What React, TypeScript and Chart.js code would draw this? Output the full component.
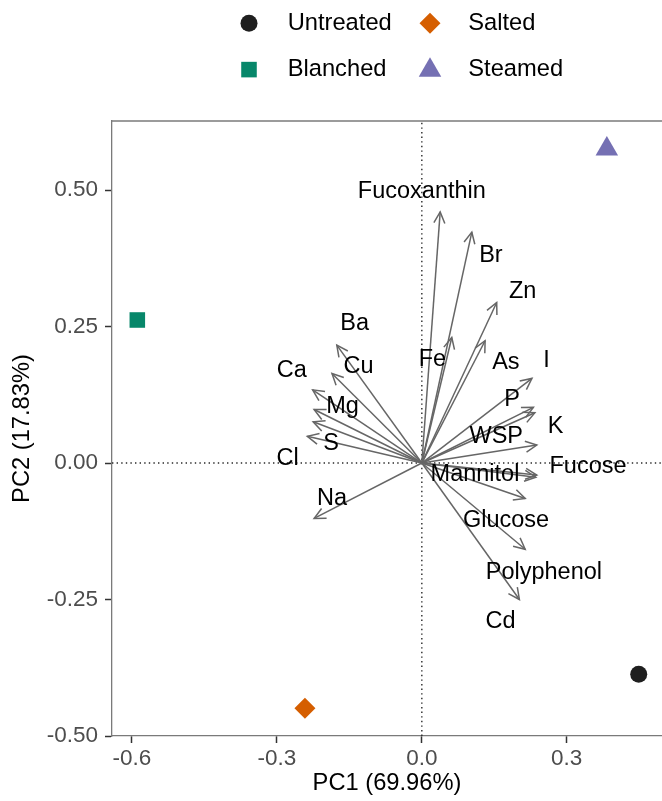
import React, { useEffect, useRef } from 'react';
import { Chart, registerables } from 'chart.js';

Chart.register(...registerables);

// ---- Data ----
const groups = ['Untreated', 'Salted', 'Blanched', 'Steamed'];
const scoreX = [0.449, -0.242, -0.589, 0.383];
const scoreY = [-0.387, -0.449, 0.262, 0.575];

const varNames = ['Fucoxanthin', 'Br', 'Zn', 'Fe', 'As', 'I', 'P', 'K', 'WSP', 'Fucose', 'Mannitol', 'Glucose', 'Polyphenol', 'Cd', 'Ba', 'Cu', 'Ca', 'Mg', 'S', 'Cl', 'Na'];
const loadX = [0.038, 0.1035, 0.155, 0.062, 0.131, 0.228, 0.231, 0.234, 0.238, 0.238, 0.236, 0.214, 0.214, 0.202, -0.176, -0.186, -0.226, -0.223, -0.225, -0.237, -0.223];
const loadY = [0.46, 0.423, 0.294, 0.23, 0.224, 0.155, 0.102, 0.092, 0.033, -0.022, -0.026, -0.065, -0.158, -0.25, 0.216, 0.164, 0.134, 0.098, 0.0755, 0.049, -0.1015];
const labelX = [0.0, 0.143, 0.2086, 0.022, 0.174, 0.258, 0.187, 0.277, 0.154, 0.344, 0.11, 0.1744, 0.2527, 0.163, -0.139, -0.131, -0.269, -0.164, -0.188, -0.278, -0.186];
const labelY = [0.498, 0.381, 0.315, 0.19, 0.185, 0.187, 0.117, 0.067, 0.048, -0.007, -0.0216, -0.1046, -0.2005, -0.2906, 0.256, 0.177, 0.169, 0.104, 0.036, 0.008, -0.065];

const xTicks = [-0.6, -0.3, 0.0, 0.3];
const yTicks = [-0.5, -0.25, 0.0, 0.25, 0.5];
const xLimits = [-0.6414, 0.4972];
const yLimits = [-0.5, 0.6265];
const xTitle = 'PC1 (69.96%)';
const yTitle = 'PC2 (17.83%)';

// ---- Styles ----
const FONT = "'Liberation Sans', Arial, Helvetica, sans-serif";
const groupColors = ['#1f1f1f', '#d55e00', '#07876a', '#7570b3'];
const groupShapes = ['circle', 'rectRot', 'rect', 'triangle'];
const groupRadius = [8.5, 10.5, 11, 13];

function drawShape(ctx: CanvasRenderingContext2D, shape: string, x: number, y: number, r: number, color: string) {
  ctx.save();
  ctx.fillStyle = color;
  ctx.beginPath();
  if (shape === 'circle') {
    ctx.arc(x, y, r, 0, Math.PI * 2);
  } else if (shape === 'rectRot') {
    ctx.moveTo(x - r, y);
    ctx.lineTo(x, y - r);
    ctx.lineTo(x + r, y);
    ctx.lineTo(x, y + r);
    ctx.closePath();
  } else if (shape === 'rect') {
    const s = Math.SQRT1_2 * r;
    ctx.rect(x - s, y - s, 2 * s, 2 * s);
  } else if (shape === 'triangle') {
    for (let k = 0; k < 3; k++) {
      const a = (k * 2 * Math.PI) / 3;
      const px = x + Math.sin(a) * r;
      const py = y - Math.cos(a) * r;
      if (k === 0) ctx.moveTo(px, py);
      else ctx.lineTo(px, py);
    }
    ctx.closePath();
  }
  ctx.fill();
  ctx.restore();
}

const biplotPlugin = {
  id: 'biplot',
  afterDatasetsDraw(chart: any) {
    const { ctx, scales } = chart;
    const xs = scales.x;
    const ys = scales.y;
    const ox = xs.getPixelForValue(0);
    const oy = ys.getPixelForValue(0);
    ctx.save();
    ctx.strokeStyle = '#666666';
    ctx.lineWidth = 1.5;
    ctx.lineCap = 'butt';
    ctx.lineJoin = 'miter';
    const headLen = 12.5;
    const headAng = (26 * Math.PI) / 180;
    for (let i = 0; i < varNames.length; i++) {
      const tx = xs.getPixelForValue(loadX[i]);
      const ty = ys.getPixelForValue(loadY[i]);
      ctx.beginPath();
      ctx.moveTo(ox, oy);
      ctx.lineTo(tx, ty);
      ctx.stroke();
      const ang = Math.atan2(ty - oy, tx - ox);
      ctx.beginPath();
      ctx.moveTo(tx - headLen * Math.cos(ang - headAng), ty - headLen * Math.sin(ang - headAng));
      ctx.lineTo(tx, ty);
      ctx.lineTo(tx - headLen * Math.cos(ang + headAng), ty - headLen * Math.sin(ang + headAng));
      ctx.stroke();
    }
    ctx.fillStyle = '#000000';
    ctx.font = `23.5px ${FONT}`;
    ctx.textAlign = 'center';
    ctx.textBaseline = 'middle';
    for (let i = 0; i < varNames.length; i++) {
      ctx.fillText(varNames[i], xs.getPixelForValue(labelX[i]), ys.getPixelForValue(labelY[i]));
    }
    ctx.restore();
  },
  afterDraw(chart: any) {
    const { ctx, chartArea } = chart;
    ctx.save();
    // top panel border
    ctx.strokeStyle = '#7a7a7a';
    ctx.lineWidth = 1.3;
    ctx.beginPath();
    ctx.moveTo(chartArea.left, chartArea.top);
    ctx.lineTo(chartArea.right, chartArea.top);
    ctx.stroke();
    // legend (2 x 2, column-major like ggplot)
    const keyX = [249, 430];
    const textX = [287.7, 468.3];
    const rowY = [23.3, 69.6];
    const order = [0, 2, 1, 3]; // Untreated, Blanched | Salted, Steamed
    ctx.font = `23.7px ${FONT}`;
    ctx.fillStyle = '#000000';
    ctx.textAlign = 'left';
    ctx.textBaseline = 'middle';
    order.forEach((g, k) => {
      const col = Math.floor(k / 2);
      const row = k % 2;
      const cy = groupShapes[g] === 'triangle' ? rowY[row] + 0.6 : rowY[row];
      drawShape(ctx, groupShapes[g], keyX[col], cy, groupRadius[g], groupColors[g]);
      ctx.fillStyle = '#000000';
      ctx.fillText(groups[g], textX[col], rowY[row]);
    });
    ctx.restore();
  },
};

export default function App() {
  const ref = useRef<HTMLCanvasElement>(null);
  useEffect(() => {
    const canvas = ref.current;
    if (!canvas) return;
    Chart.defaults.font.family = FONT;

    const pointSets = groups.map((g, i) => ({
      type: 'scatter' as const,
      label: g,
      data: [{ x: scoreX[i], y: scoreY[i] }],
      pointStyle: groupShapes[i],
      pointRadius: groupRadius[i],
      pointBackgroundColor: groupColors[i],
      pointBorderColor: groupColors[i],
      pointBorderWidth: 0,
      order: 0,
    }));
    const refLines = [
      {
        type: 'line' as const,
        label: 'vline',
        data: [{ x: 0, y: yLimits[0] }, { x: 0, y: yLimits[1] }],
        borderColor: '#2a2a2a',
        borderWidth: 1.4,
        borderDash: [1.4, 3.2],
        pointRadius: 0,
        fill: false,
        order: 5,
      },
      {
        type: 'line' as const,
        label: 'hline',
        data: [{ x: xLimits[0], y: 0 }, { x: xLimits[1], y: 0 }],
        borderColor: '#2a2a2a',
        borderWidth: 1.4,
        borderDash: [1.4, 3.2],
        pointRadius: 0,
        fill: false,
        order: 5,
      },
    ];

    const chart = new Chart(canvas, {
      type: 'scatter',
      data: { datasets: [...refLines, ...pointSets] as any },
      options: {
        responsive: false,
        animation: false,
        events: [],
        devicePixelRatio: 1,
        layout: { autoPadding: false, padding: { top: 121, left: 0, right: 0, bottom: 0 } },
        plugins: { legend: { display: false }, tooltip: { enabled: false } },
        scales: {
          x: {
            type: 'linear',
            min: xLimits[0],
            max: xLimits[1],
            afterBuildTicks: (s: any) => {
              s.ticks = xTicks.map((v) => ({ value: v }));
            },
            afterFit: (s: any) => {
              s.height = 65;
              s.paddingLeft = 0;
              s.paddingRight = 0;
            },
            ticks: {
              autoSkip: false,
              maxRotation: 0,
              color: '#4d4d4d',
              font: { size: 22.5 },
              padding: 2.5,
              callback: (v: any) => Number(v).toFixed(1),
            },
            grid: {
              display: true,
              drawOnChartArea: false,
              drawTicks: true,
              tickLength: 7,
              tickColor: '#333333',
              tickWidth: 1.5,
            },
            border: { display: true, color: '#7a7a7a', width: 1.3 },
            title: {
              display: true,
              text: xTitle,
              color: '#000000',
              font: { size: 23.7 },
              padding: { top: 0, bottom: 3.8 },
            },
          },
          y: {
            type: 'linear',
            min: yLimits[0],
            max: yLimits[1],
            afterBuildTicks: (s: any) => {
              s.ticks = yTicks.map((v) => ({ value: v }));
            },
            afterFit: (s: any) => {
              s.width = 112;
              s.paddingTop = 0;
              s.paddingBottom = 0;
            },
            ticks: {
              autoSkip: false,
              color: '#4d4d4d',
              font: { size: 22.5 },
              padding: 7,
              callback: (v: any) => Number(v).toFixed(2),
            },
            grid: {
              display: true,
              drawOnChartArea: false,
              drawTicks: true,
              tickLength: 7,
              tickColor: '#333333',
              tickWidth: 1.5,
            },
            border: { display: true, color: '#7a7a7a', width: 1.3 },
            title: {
              display: true,
              text: yTitle,
              color: '#000000',
              font: { size: 23.7 },
              padding: { top: 8.3, bottom: 0 },
            },
          },
        },
      },
      plugins: [biplotPlugin],
    } as any);
    return () => chart.destroy();
  }, []);

  return (
    <div style={{ position: 'fixed', left: 0, top: 0, width: 662, height: 801, background: '#ffffff' }}>
      <canvas ref={ref} width={662} height={801} style={{ display: 'block', width: 662, height: 801 }} />
    </div>
  );
}
